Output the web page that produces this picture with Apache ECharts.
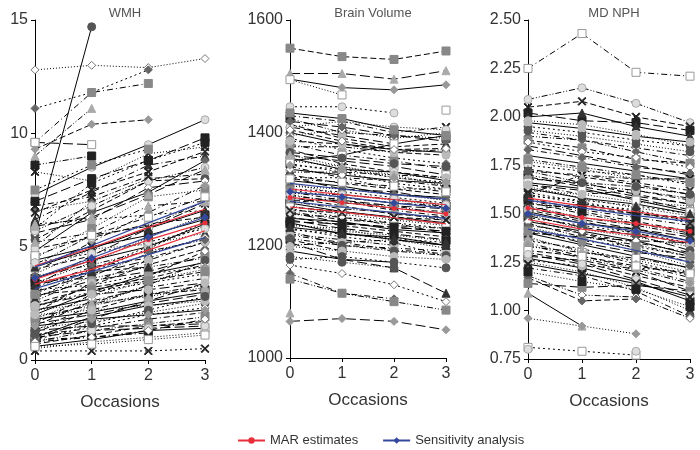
<!DOCTYPE html>
<html><head><meta charset="utf-8">
<script src="https://cdn.jsdelivr.net/npm/echarts@6/dist/echarts.min.js"></script>
<style>html,body{margin:0;padding:0;background:#fff}#c{width:700px;height:450px}</style>
</head><body><div id="c"></div>
<script>
const occasions = [0, 1, 2, 3];
const panelTitles = ['WMH', 'Brain Volume', 'MD NPH'];

// Individual trajectories (value at occasions 0..3, null = missing)
const wmhSubjects = [
[5.5,14.7,null,null],[12.8,13.0,12.9,13.3],[11.1,11.8,12.8,null],[9.6,11.8,12.2,null],
[9.0,11.1,null,null],[9.3,10.4,10.6,null],[9.6,9.5,null,null],[7.3,8.5,9.5,10.6],
[8.3,7.9,9.1,9.4],[5.8,7.8,8.8,9.6],[6.2,7.4,8.6,9.0],[5.0,7.0,8.0,8.2],
[5.3,6.6,7.9,8.0],[5.6,6.2,7.6,7.9],[4.8,6.5,7.4,8.8],[4.5,5.8,7.2,7.5],
[6.0,6.2,6.4,6.6],[3.9,5.2,6.5,7.7],[4.2,5.5,5.9,7.0],[4.9,5.4,6.0,6.3],
[3.3,4.6,5.8,6.9],[3.6,4.4,5.0,6.0],[3.8,4.9,5.1,5.6],[2.9,4.0,5.0,5.9],
[3.2,4.1,4.5,5.2],[2.6,3.7,4.7,5.4],[2.3,3.3,4.2,4.9],[2.8,3.5,3.9,4.6],
[2.0,3.0,3.8,4.3],[1.8,2.8,3.5,4.0],[2.4,3.0,3.4,3.8],[1.5,2.6,3.2,3.6],
[1.9,2.4,2.9,3.3],[1.2,2.2,2.9,3.1],[1.6,2.0,2.5,2.9],[1.0,1.9,2.4,2.7],
[1.4,1.7,2.1,2.5],[0.9,1.5,2.0,2.3],[1.1,1.4,1.8,2.1],[0.8,1.3,1.6,1.9],
[0.7,1.1,1.5,1.7],[1.3,1.5,1.5,1.6],[0.6,0.9,1.3,1.4],[0.5,0.8,1.0,1.2],
[0.4,0.4,0.4,0.5],[0.9,1.0,1.2,null],[1.7,2.5,3.3,null],[4.0,4.6,null,null],
[3.0,3.8,4.4,null],[2.2,2.7,null,null],[6.6,7.0,null,null],[7.5,8.6,9.3,null],
[5.2,5.6,6.8,7.0],[3.5,3.6,4.1,4.5],[2.5,3.2,3.6,4.2],[1.0,1.3,1.4,1.5],
[4.4,5.0,5.5,6.2],[3.4,4.3,5.4,6.4],[2.7,3.9,4.9,6.1],[2.1,3.4,4.4,5.2],
[1.3,2.4,3.3,4.4],[1.6,2.9,3.7,4.8],[0.9,1.8,2.6,3.4],[1.8,2.1,2.6,3.0],
[2.2,2.5,2.8,3.2],[3.1,3.3,3.8,4.1],[4.6,5.5,6.3,7.2],[5.7,6.8,7.9,8.5],
[6.5,7.5,8.3,9.2],[7.0,8.0,8.8,9.8],[4.1,4.9,5.8,6.6],[2.0,2.2,2.4,2.6],
[1.1,1.6,2.2,2.8],[0.8,1.0,1.3,1.8],[3.7,4.2,4.8,5.3],[2.9,3.1,3.5,3.9],
[5.9,6.3,7.3,8.4],[1.5,1.8,2.0,2.2],[0.6,0.7,0.9,1.1],[4.3,4.7,5.2,5.8],
[6.8,7.2,8.1,null],[8.6,9.0,null,null],[3.3,3.9,4.1,null],[2.4,2.9,3.1,3.4]
];
const bvSubjects = [
[1550,1535,1530,1545],[1505,1505,1495,1510],[1495,1480,1476,1485],[1494,1467,null,1440],
[1446,1446,1435,null],[1430,1420,1400,1410],[1425,1400,1395,1390],[1415,1390,1375,1380],
[1410,1395,1380,null],[1400,1380,1370,1365],[1395,1405,1390,1400],[1390,1370,1355,1345],
[1380,1360,1350,1335],[1375,1375,1365,1370],[1370,1345,1330,1320],[1360,1350,1340,1325],
[1355,1335,1330,1315],[1350,1340,1320,1310],[1345,1330,1310,1300],[1340,1320,1315,1305],
[1330,1330,1325,1320],[1325,1310,1300,1290],[1320,1300,1295,1280],[1315,1305,1290,1285],
[1310,1290,1280,1270],[1300,1295,1285,1275],[1295,1280,1265,1260],[1290,1275,1270,1255],
[1285,1270,1255,1250],[1280,1280,1270,1265],[1275,1260,1250,1240],[1270,1255,1245,1235],
[1265,1250,1240,1230],[1260,1245,1240,1220],[1255,1250,1235,1230],[1250,1235,1225,1215],
[1245,1230,1220,1210],[1240,1220,1215,1200],[1235,1230,1210,1195],[1230,1215,1205,1180],
[1225,1200,1195,1190],[1220,1210,1200,null],[1210,1190,null,null],[1205,1175,1160,1115],
[1190,1175,1170,null],[1180,1170,1160,null],[1165,1150,1130,1100],[1150,1115,1105,null],
[1140,1115,1100,1085],[1080,null,null,null],[1065,1070,1065,1050],[1350,1360,1380,1395],
[1410,1420,1410,1405],[1320,1320,1300,1300],[1275,1285,1275,1270],[1200,1205,1210,1200],
[1385,1380,1365,1360],[1365,1355,1345,1340],[1335,1325,1315,1310],[1305,1300,1290,1280],
[1298,1285,1275,1268],[1288,1278,1262,1252],[1278,1265,1258,1245],[1268,1260,1248,1238],
[1258,1240,1232,1225],[1248,1242,1228,1222],[1238,1225,1218,1208],[1228,1220,1212,1205],
[1218,1205,1192,1185],[1212,1200,1190,1182],[1405,1385,1370,1372],[1420,1410,1395,1385],
[1435,1425,1405,1395],[1360,1340,1325,1305],[1342,1335,1320,1312],[1318,1312,1305,1295],
[1292,1290,1282,1272],[1262,1258,1250,1245],[1242,1238,1232,1225],[1232,1222,1210,1200],
[1198,1190,1180,1175],[1175,1180,1170,1160]
];
const mdSubjects = [
[2.25,2.43,2.23,2.21],[2.09,2.15,2.07,1.97],[2.05,2.08,2.00,1.95],[2.02,1.98,1.97,1.93],
[2.00,2.02,1.95,1.90],[1.98,1.96,1.91,1.85],[1.95,1.92,1.88,1.85],[1.92,1.88,1.84,1.80],
[1.90,1.88,1.82,1.76],[1.88,1.84,1.78,1.76],[1.85,1.80,1.75,1.70],[1.80,1.76,1.72,1.68],
[1.77,1.73,1.68,1.68],[1.75,1.72,1.70,1.65],[1.72,1.70,1.66,1.62],[1.70,1.65,1.62,1.58],
[1.68,1.66,1.60,1.55],[1.65,1.62,1.58,1.52],[1.63,1.58,1.55,1.50],[1.62,1.60,1.56,1.54],
[1.60,1.55,1.52,1.46],[1.58,1.52,1.48,1.44],[1.56,1.50,1.45,1.40],[1.55,1.53,1.50,1.47],
[1.53,1.47,1.42,1.38],[1.51,1.45,1.42,1.36],[1.50,1.42,1.38,1.33],[1.48,1.44,1.40,1.35],
[1.47,1.40,1.35,1.30],[1.45,1.38,1.34,1.28],[1.44,1.40,1.32,1.25],[1.42,1.35,1.30,1.27],
[1.40,1.34,1.28,1.22],[1.38,1.30,1.26,1.20],[1.36,1.32,1.25,1.18],[1.35,1.28,1.22,1.15],
[1.33,1.30,1.27,1.22],[1.30,1.25,1.18,1.12],[1.28,1.26,1.20,1.10],[1.27,1.22,1.15,1.05],
[1.25,1.20,1.12,1.00],[1.26,1.23,1.22,1.20],[1.22,1.18,1.10,0.97],[1.18,1.08,1.07,0.96],
[1.17,1.05,1.06,null],[1.14,1.12,1.13,1.10],[1.09,0.92,null,null],[0.96,0.92,0.88,null],
[0.81,0.79,0.77,null],[0.80,null,0.79,null],[1.60,1.70,1.68,1.68],[1.52,1.55,1.50,1.48],
[1.40,1.38,1.36,1.35],
[1.97,1.94,1.90,1.87],[1.93,1.90,1.86,1.82],[1.87,1.82,1.79,1.74],[1.83,1.79,1.74,1.71],
[1.78,1.74,1.70,1.66],[1.73,1.69,1.65,1.60],[1.69,1.64,1.59,1.55],[1.66,1.63,1.57,1.51],
[1.64,1.58,1.53,1.49],[1.61,1.56,1.51,1.45],[1.57,1.51,1.46,1.41],[1.54,1.48,1.44,1.39],
[1.52,1.46,1.40,1.34],[1.49,1.43,1.39,1.31],[1.46,1.41,1.36,1.29],[1.43,1.37,1.31,1.23],
[1.41,1.36,1.33,1.28],[1.37,1.31,1.24,1.17],[1.34,1.27,1.21,1.14],[1.31,1.28,1.23,1.19],
[1.29,1.24,1.16,1.08],[1.24,1.19,1.14,1.07],[1.20,1.15,1.11,1.02],[1.59,1.57,1.54,1.50],
[1.65,1.60,1.62,1.57],[1.72,1.66,1.64,1.60]
];

// Estimated mean trajectories with confidence bands
const wmhMar = [3.55,4.4,5.3,6.05], wmhMarUp = [4.15,4.95,5.85,6.65], wmhMarLo = [3.35,4.0,4.85,5.7];
const wmhSens = [3.62,4.5,5.43,6.3], wmhSensUp = [4.1,5.05,6.05,7.0], wmhSensLo = [3.15,3.9,4.65,5.4];
const bvMar = [1285,1276,1266,1256], bvMarUp = [1300,1290,1281,1272], bvMarLo = [1268,1259,1249,1238];
const bvSens = [1295,1286,1275,1266], bvSensUp = [1310,1300,1290,1282], bvSensLo = [1278,1268,1258,1248];
const mdMar = [1.53,1.48,1.45,1.41], mdMarUp = [1.58,1.54,1.51,1.47], mdMarLo = [1.47,1.42,1.39,1.35];
const mdSens = [1.50,1.45,1.41,1.36], mdSensUp = [1.57,1.53,1.49,1.46], mdSensLo = [1.42,1.37,1.31,1.25];

const yMin = [0, 1000, 0.75], yMax = [15, 1600, 2.5], yStep = [5, 200, 0.25];

// ---- styles ----
const CROSS = 'path://M0,1L1,0L5,4L9,0L10,1L6,5L10,9L9,10L5,6L1,10L0,9L4,5Z';
const markerStyles = [
 {s:'circle', f:'#555', b:'#555'}, {s:'diamond', f:'#999', b:'#999'}, {s:'triangle', f:'#333', b:'#333'},
 {s:'rect', f:'#888', b:'#888'}, {s:CROSS, f:'#222', b:'#222'}, {s:'diamond', f:'#fff', b:'#777'},
 {s:'rect', f:'#fff', b:'#999'}, {s:'circle', f:'#bbb', b:'#bbb'}, {s:'triangle', f:'#aaa', b:'#aaa'},
 {s:'rect', f:'#222', b:'#222'}, {s:'diamond', f:'#666', b:'#666'}, {s:'circle', f:'#ddd', b:'#aaa'}
];
const dashStyles = ['solid',[6,3],[6,3,1,3],[1,2],[10,4],[6,2,1,2,1,2],[2,3]];
const grids = [
 {left:35, top:20, width:170, height:340},
 {left:290, top:20, width:156, height:338},
 {left:528, top:20, width:162, height:339}
];
const titleX = [120, 368, 609];
const RED = '#e8303c', BLUE = '#34489c';

const series = [];
const panels = [
 {subj: wmhSubjects, mar:[wmhMar,wmhMarUp,wmhMarLo], sens:[wmhSens,wmhSensUp,wmhSensLo]},
 {subj: bvSubjects, mar:[bvMar,bvMarUp,bvMarLo], sens:[bvSens,bvSensUp,bvSensLo]},
 {subj: mdSubjects, mar:[mdMar,mdMarUp,mdMarLo], sens:[mdSens,mdSensUp,mdSensLo]}
];
const pts = arr => occasions.map((o,i)=>[o, arr[i]]);
panels.forEach((p, k) => {
  p.subj.forEach((traj, i) => {
    const m = markerStyles[(i*5 + k*3) % markerStyles.length];
    const d = dashStyles[(i*3 + k) % dashStyles.length];
    series.push({
      type:'line', xAxisIndex:k, yAxisIndex:k, data: pts(traj), clip:false, connectNulls:false,
      symbol:m.s, symbolSize: 8, silent:true, z:2,
      lineStyle:{color:'#000', width:1, type:d},
      itemStyle:{color:m.f, borderColor:m.b, borderWidth:1}
    });
  });
  const add = (arr, name, color, sym, main) => series.push({
    type:'line', name, xAxisIndex:k, yAxisIndex:k, data: pts(arr), clip:false, z:5, silent:true,
    symbol: main ? sym : 'none', symbolSize: sym==='diamond' ? 8 : 5, showSymbol: main,
    lineStyle:{color, width:1.2}, itemStyle:{color}
  });
  add(p.mar[1], 'marUp', RED, 'circle', false);
  add(p.mar[2], 'marLo', RED, 'circle', false);
  add(p.sens[1], 'sensUp', BLUE, 'diamond', false);
  add(p.sens[2], 'sensLo', BLUE, 'diamond', false);
  add(p.mar[0], 'MAR estimates', RED, 'circle', true);
  add(p.sens[0], 'Sensitivity analysis', BLUE, 'diamond', true);
});

const axisCommon = {
  axisLine:{show:true, lineStyle:{color:'#000', width:1}},
  axisTick:{show:true, inside:false, length:4, lineStyle:{color:'#000'}},
  splitLine:{show:false}
};
const option = {
  animation:false,
  backgroundColor:'#fff',
  title: panelTitles.map((t,k)=>({text:t, left:titleX[k], top:2, textAlign:'center',
    textStyle:{fontSize:13, fontWeight:'normal', color:'#555', fontFamily:'Liberation Sans, Arial'}})),
  grid: grids,
  xAxis: grids.map((g,k)=>Object.assign({}, axisCommon, {
    type:'value', gridIndex:k, min:0, max:3, interval:1,
    name:'Occasions', nameLocation:'middle', nameGap:34,
    nameTextStyle:{fontSize:17, color:'#333', fontFamily:'Liberation Sans, Arial'},
    axisLabel:{fontSize:16, color:'#333', margin:8, fontFamily:'Liberation Sans, Arial'}
  })),
  yAxis: grids.map((g,k)=>Object.assign({}, axisCommon, {
    type:'value', gridIndex:k, min:yMin[k], max:yMax[k], interval:yStep[k],
    axisLabel:{fontSize:16, color:'#333', margin:7, fontFamily:'Liberation Sans, Arial',
      formatter: v => k===2 ? v.toFixed(2) : String(v)}
  })),
  legend:{data:['MAR estimates','Sensitivity analysis'], left:232, top:429, itemWidth:27, itemHeight:8,
    itemGap:24, textStyle:{fontSize:13, color:'#333', fontFamily:'Liberation Sans, Arial'}},
  series
};
const chart = echarts.init(document.getElementById('c'), null, {renderer:'canvas'});
chart.setOption(option);
</script></body></html>
